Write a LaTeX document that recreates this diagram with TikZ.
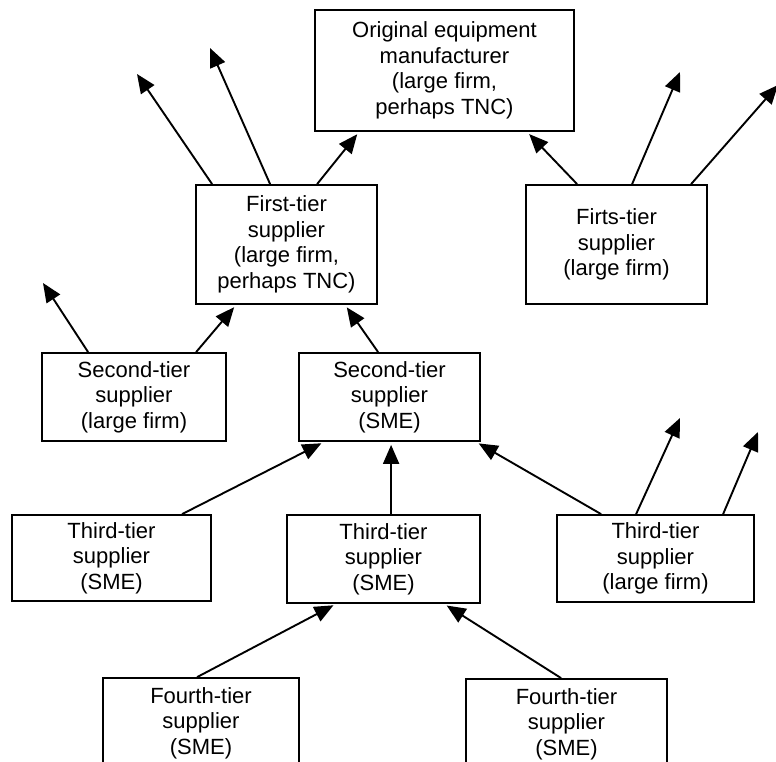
\documentclass[tikz,border=0pt]{standalone}
\usepackage{fontspec}
\setmainfont{Liberation Sans}
\usetikzlibrary{arrows.meta}
\begin{document}
\begin{tikzpicture}[x=1pt,y=-1pt,
  box/.style={draw,line width=1.8pt,rectangle,inner sep=0pt,align=center,
    font=\fontsize{22}{25.5}\selectfont},
  arr/.style={line width=1.9pt,-{Triangle[length=19pt,width=16pt]}},
  arrb/.style={arr,shorten >=3pt}]
\clip (0,0) rectangle (776,762);
\useasboundingbox (0,0) rectangle (776,762);
\node[box,minimum width=259pt,minimum height=121pt] (oem) at (444.5,70.5) {Original equipment\\manufacturer\\(large firm,\\perhaps TNC)};
\node[box,minimum width=181pt,minimum height=119pt] (first) at (286.5,244.5) {First-tier\\supplier\\(large firm,\\perhaps TNC)};
\node[box,minimum width=181pt,minimum height=119pt] (firts) at (616.5,244.5) {Firts-tier\\supplier\\(large firm)};
\node[box,minimum width=184pt,minimum height=88pt] (secl) at (134,397) {Second-tier\\supplier\\(large firm)};
\node[box,minimum width=181pt,minimum height=88pt] (secs) at (389.5,397) {Second-tier\\supplier\\(SME)};
\node[box,minimum width=199pt,minimum height=86pt] (thl) at (111.5,558) {Third-tier\\supplier\\(SME)};
\node[box,minimum width=193pt,minimum height=88pt] (thm) at (383.5,559) {Third-tier\\supplier\\(SME)};
\node[box,minimum width=197pt,minimum height=87pt] (thr) at (655.5,558.5) {Third-tier\\supplier\\(large firm)};
\node[box,minimum width=196pt,minimum height=90pt] (fol) at (201,723) {Fourth-tier\\supplier\\(SME)};
\node[box,minimum width=201pt,minimum height=90pt] (forr) at (566.5,724) {Fourth-tier\\supplier\\(SME)};

\coordinate (c1) at (137,74);
\coordinate (c2) at (210,48);
\coordinate (c3) at (680,72);
\coordinate (c4) at (778,85);
\coordinate (c5) at (43,283);
\coordinate (c6) at (680,418);
\coordinate (c7) at (758,432);

\draw[arr] ([xshift=17pt]first.north west) -- (c1);
\draw[arr] ([xshift=75pt]first.north west) -- (c2);
\draw[arrb] ([xshift=122pt]first.north west) -- ([xshift=45pt]oem.south west);
\draw[arrb] ([xshift=52pt]firts.north west) -- ([xshift=213pt]oem.south west);
\draw[arr] ([xshift=107pt]firts.north west) -- (c3);
\draw[arr] ([xshift=166pt]firts.north west) -- (c4);
\draw[arr] ([xshift=47pt]secl.north west) -- (c5);
\draw[arrb] ([xshift=155pt]secl.north west) -- ([xshift=41pt]first.south west);
\draw[arrb] ([xshift=80pt]secs.north west) -- ([xshift=150pt]first.south west);
\draw[arrb] ([xshift=171pt]thl.north west) -- ([xshift=26pt]secs.south west);
\draw[arrb] ([xshift=105pt]thm.north west) -- ([xshift=93pt]secs.south west);
\draw[arrb] ([xshift=45pt]thr.north west) -- ([xshift=178pt]secs.south west);
\draw[arr] ([xshift=80pt]thr.north west) -- (c6);
\draw[arr] ([xshift=167pt]thr.north west) -- (c7);
\draw[arrb] ([xshift=95pt]fol.north west) -- ([xshift=50pt]thm.south west);
\draw[arrb] ([xshift=96pt]forr.north west) -- ([xshift=158pt]thm.south west);
\end{tikzpicture}
\end{document}
